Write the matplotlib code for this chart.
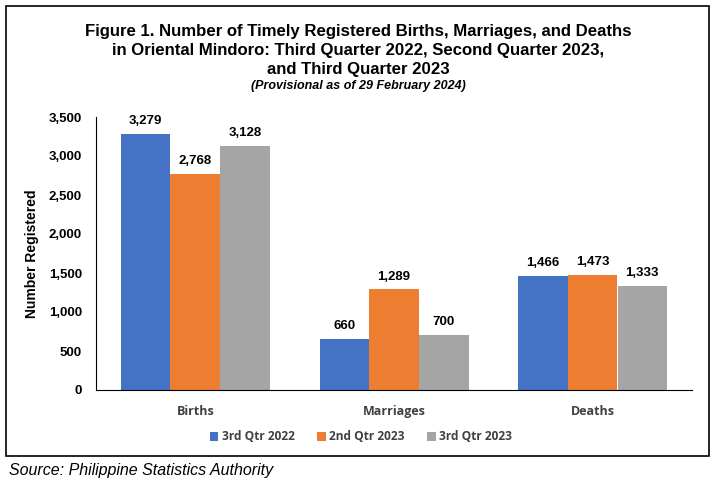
import numpy as np
import matplotlib.pyplot as plt
from matplotlib.patches import Rectangle

# Data
categories = ['Births', 'Marriages', 'Deaths']
series_names = ['3rd Qtr 2022', '2nd Qtr 2023', '3rd Qtr 2023']
q3_2022 = [3279, 660, 1466]
q2_2023 = [2768, 1289, 1473]
q3_2023 = [3128, 700, 1333]
colors = ['#4472C4', '#ED7D31', '#A5A5A5']

plt.rcParams['font.family'] = ['Liberation Sans', 'DejaVu Sans']

fig = plt.figure(figsize=(7.17, 4.84), dpi=100)
ax = fig.add_axes([96/717, 94/484, 596/717, 273/484])

x = np.arange(len(categories))
w = 0.25
for i, (vals, name) in enumerate(zip([q3_2022, q2_2023, q3_2023], series_names)):
    bars = ax.bar(x + (i - 1) * w, vals, w, color=colors[i], label=name)
    for b, v in zip(bars, vals):
        ax.annotate(f'{v:,}', (b.get_x() + b.get_width() / 2, v),
                    xytext=(0, 5), textcoords='offset points',
                    ha='center', va='bottom', fontsize=9.5, fontweight='bold')

ax.set_xlim(-0.5, 2.5)
ax.set_ylim(0, 3500)
ax.set_yticks(range(0, 3501, 500))
ax.set_yticklabels([f'{t:,}' for t in range(0, 3501, 500)], fontsize=9.5, fontweight='bold')
ax.set_xticks(x)
ax.set_xticklabels(categories, fontsize=9, fontweight='bold', family=['Open Sans', 'DejaVu Sans'], color='#404040')
ax.tick_params(axis='both', length=0)
ax.tick_params(axis='y', pad=10)
ax.tick_params(axis='x', pad=11)
for s in ['top', 'right']:
    ax.spines[s].set_visible(False)
ax.spines['left'].set_color('black')
ax.spines['bottom'].set_color('black')
ax.set_ylabel('Number Registered', fontsize=10, fontweight='bold', labelpad=7)

# legend is centred on the figure, not the axes
leg = fig.legend(loc='center', bbox_to_anchor=(361/717, (484 - 437) / 484), ncol=3, frameon=False,
                 handlelength=0.7, handleheight=0.7, handletextpad=0.3, columnspacing=1.9,
                 prop={'family': ['Open Sans', 'DejaVu Sans'], 'weight': 'bold', 'size': 8.6})
for t in leg.get_texts():
    t.set_color('#404040')

fig.text(0.5, (484 - 24) / 484, 'Figure 1. Number of Timely Registered Births, Marriages, and Deaths\n'
         'in Oriental Mindoro: Third Quarter 2022, Second Quarter 2023,\nand Third Quarter 2023',
         ha='center', va='top', fontsize=12.1, fontweight='bold', linespacing=1.33)
fig.text(0.5, (484 - 86) / 484, '(Provisional as of 29 February 2024)', ha='center', va='center',
         fontsize=9, fontweight='bold', style='italic')

fig.patches.append(Rectangle((6/717, 28/484), 703/717, 450/484, transform=fig.transFigure,
                             fill=False, edgecolor='black', linewidth=1.2))
fig.text(9/717, (484 - 470) / 484, 'Source: Philippine Statistics Authority', ha='left', va='center',
         fontsize=11.5, style='italic')

plt.savefig('out.png', dpi=100)
